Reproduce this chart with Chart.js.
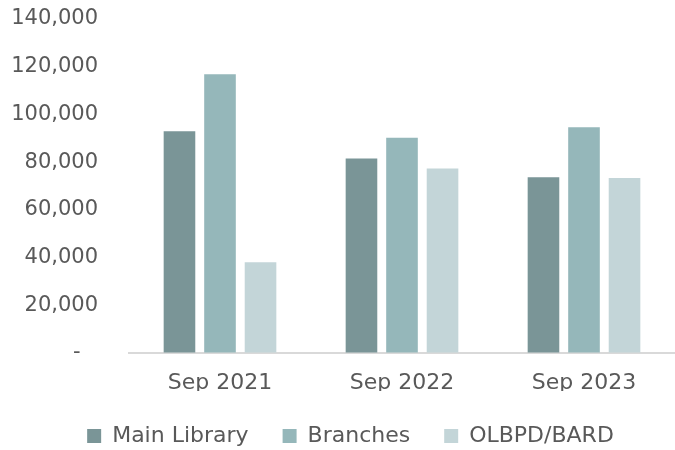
<!DOCTYPE html>
<html>
<head>
<meta charset="utf-8">
<script src="https://cdn.jsdelivr.net/npm/chart.js@4/dist/chart.umd.min.js"></script>
<style>
  html, body { margin: 0; padding: 0; background: #fff; }
  #wrap { width: 675px; height: 450px; }
</style>
</head>
<body>
<div id="wrap"><canvas id="chart"></canvas></div>
<script>
const categories = ["Sep 2021", "Sep 2022", "Sep 2023"];
const mainLibrary = [93000, 81500, 73700];
const branches = [116800, 90200, 94600];
const olbpdBard = [38000, 77300, 73400];
const yTicks = [0, 20000, 40000, 60000, 80000, 100000, 120000, 140000];

const textColor = "#595959";
const fontFamily = "'DejaVu Sans', Verdana, sans-serif";

// chart.js counts a trailing padding in the legend row, so it sits a bit left; push it back
const legendNudge = {
    id: "legendNudge",
    afterLayout(chart) {
        chart.legend.left += 10;
        chart.legend.right += 10;
    }
};

new Chart(document.getElementById("chart"), {
    type: "bar",
    data: {
        labels: categories,
        datasets: [
            { label: "Main Library", data: mainLibrary, backgroundColor: "#7a9597" },
            { label: "Branches", data: branches, backgroundColor: "#95b7ba" },
            { label: "OLBPD/BARD", data: olbpdBard, backgroundColor: "#c3d5d8" }
        ]
    },
    plugins: [legendNudge],
    options: {
        responsive: true,
        maintainAspectRatio: false,
        animation: false,
        categoryPercentage: 0.668,
        barPercentage: 0.78,
        layout: { padding: { left: 0, right: -6, top: 19, bottom: -7 } },
        plugins: {
            legend: {
                position: "bottom",
                labels: {
                    color: textColor,
                    font: { family: fontFamily, size: 22 },
                    boxWidth: 14,
                    boxHeight: 14,
                    padding: 34
                }
            },
            tooltip: { enabled: false }
        },
        scales: {
            x: {
                afterFit: (axis) => { axis.height = 38; },
                grid: { display: false, drawTicks: false },
                border: { color: "#d9d9d9", width: 2 },
                ticks: { color: textColor, font: { family: fontFamily, size: 22 }, padding: 17 }
            },
            y: {
                min: 0,
                max: 140000,
                afterBuildTicks: (axis) => { axis.ticks = yTicks.map(v => ({ value: v })); },
                afterFit: (axis) => { axis.width = 129; },
                grid: { display: true, drawOnChartArea: false, drawTicks: true, tickLength: 26, tickColor: "rgba(0,0,0,0)" },
                border: { display: false },
                ticks: {
                    color: textColor,
                    font: { family: fontFamily, size: 21 },
                    padding: 5,
                    callback: (v) => v === 0 ? "-  \u2009" : v.toLocaleString("en-US")
                }
            }
        }
    }
});
</script>
</body>
</html>
